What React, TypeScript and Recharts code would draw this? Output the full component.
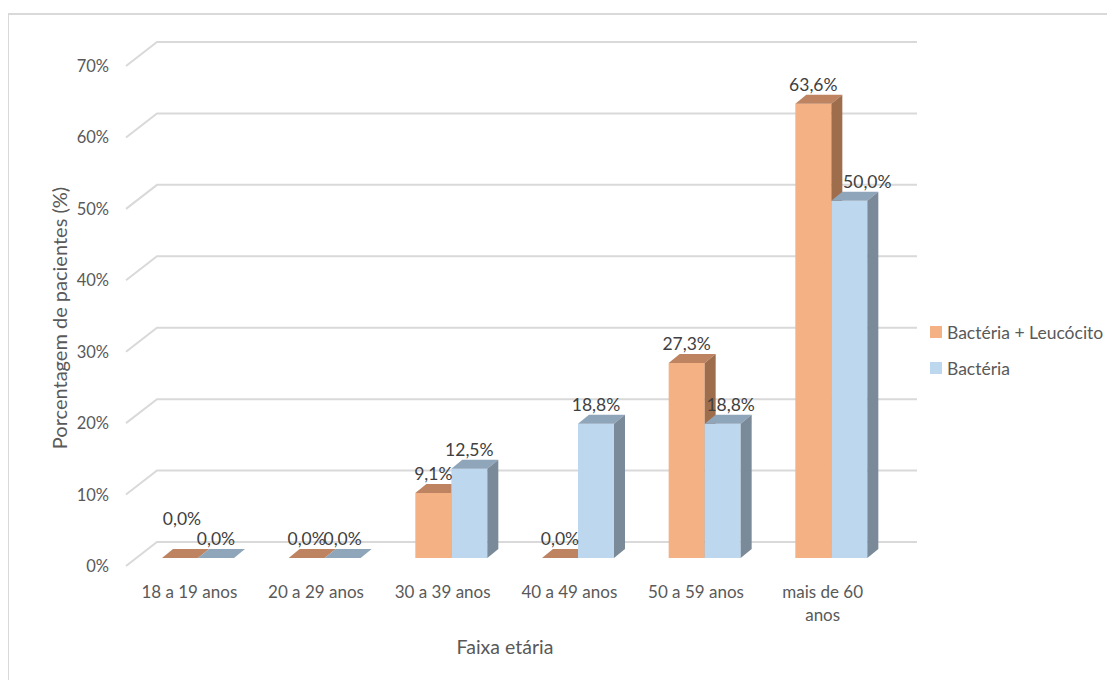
import React from 'react';
import { BarChart, Bar, XAxis, YAxis, CartesianGrid, LabelList, Legend, Label } from 'recharts';

// Faixa etária x porcentagem de pacientes
const categories = ['18 a 19 anos', '20 a 29 anos', '30 a 39 anos', '40 a 49 anos', '50 a 59 anos', 'mais de 60 anos'];
const bacteriaLeucocito = [0, 0, 9.1, 0, 27.3, 63.6];
const bacteria = [0, 0, 12.5, 18.8, 18.8, 50.0];
const yTicks = [0, 10, 20, 30, 40, 50, 60, 70];
const seriesNames = ['Bactéria + Leucócito', 'Bactéria'];

const data = categories.map((c, i) => ({ faixa: c, bl: bacteriaLeucocito[i], b: bacteria[i] }));

const FONT = 'Lato, "Open Sans", sans-serif';
const GRID = '#D9D9D9';
const AXIS_TEXT = '#595959';
const LABEL_TEXT = '#404040';

// depth of the 3D bars and of the floor/back wall
const DX = 11;
const DY = 9;
const WALL_DX = 22;
const WALL_DY = 16;
const FRONT_DX = 9;
const FRONT_DY = 8;

const COLORS = {
    bl: { front: '#F4B183', top: '#BE8360', side: '#9E6E4C' },
    b: { front: '#BDD7EE', top: '#8FA5BA', side: '#7B8A99' },
};

// small label nudges where Excel moved labels to avoid overlaps
const labelNudge: Record<string, { dx: number; dy: number }> = {
    'bl-0': { dx: 2, dy: -20 },
    'b-4': { dx: 8, dy: 0 },
    'b-5': { dx: 18, dy: 0 },
};

const fmt = (v: number) => `${v.toFixed(1).replace('.', ',')}%`;

const make3D = (c: { front: string; top: string; side: string }) => (props: any) => {
    const { x, y, width, height } = props;
    const w = width;
    const h = Math.max(height || 0, 0);
    return (
        <g>
            <rect x={x} y={y} width={w} height={h} fill={c.front} />
            <polygon
                points={`${x},${y} ${x + DX},${y - DY} ${x + w + DX},${y - DY} ${x + w},${y}`}
                fill={c.top}
            />
            <polygon
                points={`${x + w},${y} ${x + w + DX},${y - DY} ${x + w + DX},${y + h - DY} ${x + w},${y + h}`}
                fill={c.side}
            />
        </g>
    );
};

const makeLabel = (key: string) => (props: any) => {
    const { x, y, width, value, index } = props;
    const n = labelNudge[`${key}-${index}`] || { dx: 0, dy: 0 };
    return (
        <text
            x={x + width / 2 + n.dx}
            y={y - 13 + n.dy}
            textAnchor="middle"
            fill={LABEL_TEXT}
            fontSize={17.5}
            fontFamily={FONT}
        >
            {fmt(Number(value))}
        </text>
    );
};

const gridLine = (p: any) => {
    const { x1, x2, y1 } = p;
    const d = `M${x1 - FRONT_DX},${y1 + FRONT_DY} L${x1 + WALL_DX},${y1 - WALL_DY} L${x2 + WALL_DX},${y1 - WALL_DY}`;
    return <path key={p.key ?? `g-${y1}`} d={d} stroke={GRID} strokeWidth={2} fill="none" />;
};

const YTick = (props: any) => {
    const { y, payload } = props;
    return (
        <text x={109} y={y + FRONT_DY + 6} textAnchor="end" fill={AXIS_TEXT} fontSize={16.5} fontFamily={FONT}>
            {`${payload.value}%`}
        </text>
    );
};

const XTick = (props: any) => {
    const { x, payload } = props;
    const txt: string = payload.value;
    let lines = [txt];
    if (txt.length > 13) {
        const i = txt.lastIndexOf(' ');
        lines = [txt.slice(0, i), txt.slice(i + 1)];
    }
    return (
        <text x={x - FRONT_DX} y={598} textAnchor="middle" fill={AXIS_TEXT} fontSize={17} fontFamily={FONT}>
            {lines.map((l, i) => (
                <tspan key={i} x={x - FRONT_DX} dy={i === 0 ? 0 : 23}>
                    {l}
                </tspan>
            ))}
        </text>
    );
};

const LegendBox = () => (
    <div style={{ fontFamily: FONT, fontSize: 17.5, color: AXIS_TEXT }}>
        {[COLORS.bl, COLORS.b].map((c, i) => (
            <div key={i} style={{ display: 'flex', alignItems: 'center', height: 36 }}>
                <span style={{ width: 12, height: 12, background: c.front, marginRight: 5, display: 'inline-block' }} />
                <span>{seriesNames[i]}</span>
            </div>
        ))}
    </div>
);

export default function App() {
    return (
        <div style={{ position: 'relative', margin: -8, width: 1115, height: 700, overflow: 'hidden', background: '#fff', fontFamily: FONT }}>
            <div
                style={{
                    position: 'absolute',
                    left: 7,
                    top: 13,
                    width: 1200,
                    height: 800,
                    border: `2px solid ${GRID}`,
                    boxSizing: 'border-box',
                }}
            />
            <div style={{ position: 'absolute', left: 0, top: 0 }}>
                <BarChart
                    width={1115}
                    height={680}
                    data={data}
                    margin={{ top: 58, right: 220, bottom: 0, left: 0 }}
                    barGap={0}
                    barSize={36}
                >
                    <CartesianGrid vertical={false} horizontal={gridLine} />
                    <XAxis dataKey="faixa" axisLine={false} tickLine={false} height={122} interval={0} tick={<XTick />}>
                        <Label
                            content={() => (
                                <text x={505} y={654} textAnchor="middle" fill={AXIS_TEXT} fontSize={19.5} fontFamily={FONT}>
                                    Faixa etária
                                </text>
                            )}
                        />
                    </XAxis>
                    <YAxis domain={[0, 70]} ticks={yTicks} axisLine={false} tickLine={false} width={135} interval={0} tick={<YTick />}>
                        <Label
                            content={() => (
                                <text
                                    x={0}
                                    y={0}
                                    transform="translate(67,318) rotate(-90)"
                                    textAnchor="middle"
                                    fill={AXIS_TEXT}
                                    fontSize={20}
                                    fontFamily={FONT}
                                >
                                    Porcentagem de pacientes (%)
                                </text>
                            )}
                        />
                    </YAxis>
                    <Legend
                        layout="vertical"
                        align="center"
                        verticalAlign="middle"
                        wrapperStyle={{ left: 930, top: 314, width: 185 }}
                        content={<LegendBox />}
                    />
                    <Bar dataKey="bl" name={seriesNames[0]} shape={make3D(COLORS.bl)} isAnimationActive={false}>
                        <LabelList dataKey="bl" content={makeLabel('bl')} />
                    </Bar>
                    <Bar dataKey="b" name={seriesNames[1]} shape={make3D(COLORS.b)} isAnimationActive={false}>
                        <LabelList dataKey="b" content={makeLabel('b')} />
                    </Bar>
                </BarChart>
            </div>
        </div>
    );
}
